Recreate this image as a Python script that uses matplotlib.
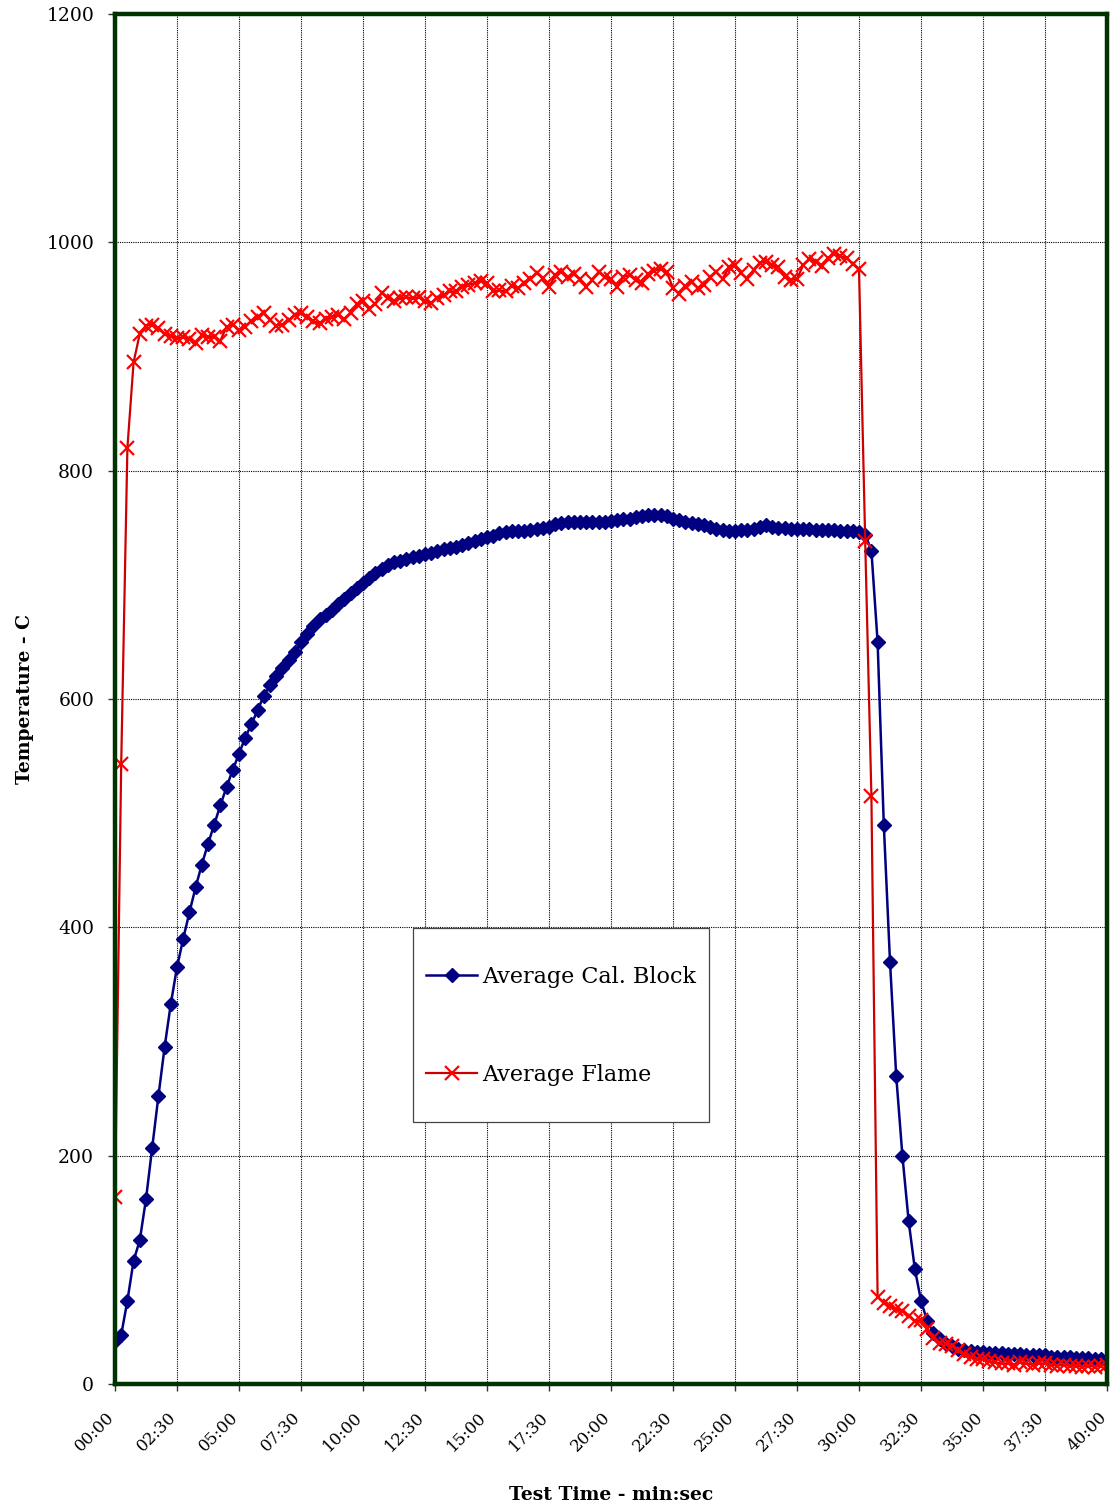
import numpy as np
import matplotlib
matplotlib.use("Agg")
import matplotlib.pyplot as plt
from matplotlib.patches import Rectangle
from matplotlib.transforms import ScaledTranslation

# readings every 15 s from 00:00 to 40:00
sample_step_s = 15

cal_block = [
    38, 43, 73, 108,
    126, 162, 207, 252,
    295, 333, 365, 390,
    413, 435, 455, 473,
    490, 507, 523, 538,
    552, 566, 578, 590,
    603, 612, 620, 627,
    634, 641, 650, 657,
    664, 670, 674, 678,
    683, 688, 693, 697,
    702, 706, 710, 714,
    717, 720, 721, 723,
    724, 725, 727, 728,
    730, 731, 732, 733,
    735, 737, 738, 740,
    742, 743, 745, 746,
    747, 747, 747, 748,
    749, 750, 751, 753,
    754, 755, 755, 755,
    755, 755, 755, 755,
    756, 757, 758, 758,
    759, 760, 761, 761,
    761, 760, 758, 757,
    755, 754, 753, 752,
    751, 749, 748, 747,
    747, 748, 748, 749,
    751, 752, 751, 750,
    750, 749, 749, 749,
    749, 748, 748, 748,
    748, 747, 747, 747,
    746, 744, 730, 650,
    490, 370, 270, 200,
    143, 101, 73, 55,
    45, 39, 35, 33,
    31, 30, 29, 28,
    28, 27, 27, 27,
    26, 26, 26, 25,
    25, 25, 25, 24,
    24, 24, 24, 23,
    23, 23, 22, 22,
    21,
]

flame = [
    164, 543, 820, 895,
    920, 927, 928, 925,
    920, 918, 916, 917,
    915, 912, 919, 917,
    917, 914, 926, 928,
    923, 926, 931, 935,
    938, 932, 927, 928,
    932, 936, 938, 935,
    931, 929, 933, 935,
    936, 933, 938, 946,
    949, 942, 946, 956,
    951, 949, 951, 952,
    951, 952, 949, 947,
    951, 954, 957, 957,
    961, 963, 964, 966,
    964, 957, 958, 957,
    962, 960, 964, 968,
    973, 969, 961, 971,
    974, 970, 972, 968,
    961, 967, 974, 970,
    968, 961, 970, 971,
    967, 964, 972, 975,
    977, 974, 960, 955,
    962, 965, 960, 963,
    970, 974, 968, 978,
    980, 973, 968, 976,
    982, 983, 980, 978,
    970, 967, 968, 980,
    985, 983, 979, 986,
    990, 988, 986, 981,
    977, 738, 515, 76,
    71, 68, 66, 64,
    60, 55, 56, 48,
    40, 36, 35, 33,
    30, 26, 24, 22,
    22, 20, 19, 18,
    18, 17, 19, 18,
    17, 18, 18, 17,
    16, 17, 16, 16,
    15, 16, 15, 16,
    17,
]

tick_seconds = list(range(0, 2401, 150))
tick_labels = [f"{s // 60:02d}:{s % 60:02d}" for s in tick_seconds]

t = np.arange(len(cal_block)) * sample_step_s

plt.rcParams["font.family"] = ["DejaVu Serif"]

fig = plt.figure(figsize=(11.13, 15.11), dpi=100)
ax = fig.add_axes([115 / 1113, 127 / 1511, 992 / 1113, 1370 / 1511])

ax.plot(t, cal_block, color="#000080", lw=1.8, marker="D", ms=7,
        mfc="#000080", mec="#000080", label="Average Cal. Block", zorder=3)
ax.plot(t, flame, color="#cc0000", lw=1.6, marker="x", ms=10, mew=1.6,
        mec="#ff0000", label="Average Flame", zorder=4)

ax.set_xlim(0, 2400)
ax.set_ylim(0, 1200)
ax.set_yticks(range(0, 1201, 200))
ax.set_xticks(tick_seconds)
ax.set_xticklabels(tick_labels, rotation=45, ha="right", va="top",
                   rotation_mode="anchor")
ax.tick_params(axis="both", length=5, width=1, color="#333333", direction="out")
ax.tick_params(axis="y", labelsize=13.5, pad=10)
ax.tick_params(axis="x", labelsize=12, pad=13)

# nudge rotated time labels left so they sit like the original
shift = ScaledTranslation(-9 / 100, 0, fig.dpi_scale_trans)
for lab in ax.get_xticklabels():
    lab.set_transform(lab.get_transform() + shift)

ax.grid(True, color="black", linestyle=(0, (1, 1)), linewidth=0.8)
ax.set_axisbelow(True)

for sp in ax.spines.values():
    sp.set_color("#003300")
    sp.set_linewidth(3.2)
    sp.set_zorder(5)

ax.set_ylabel("Temperature - C", fontsize=13.5, fontweight="bold", labelpad=9)
ax.set_xlabel("Test Time - min:sec", fontsize=13.5, fontweight="bold", labelpad=22)

# legend box drawn separately so its size matches
ax.add_patch(Rectangle((298 / 992, 262 / 1370), 296 / 992, 194 / 1370,
                       transform=ax.transAxes, facecolor="white",
                       edgecolor="#444444", lw=0.9, zorder=6))
leg = ax.legend(loc="center", bbox_to_anchor=(446 / 992, 358 / 1370),
                frameon=False, fontsize=16, labelspacing=3.4,
                handlelength=2.3, handletextpad=0.2)
leg.set_zorder(7)

fig.savefig("out.png", dpi=100)
